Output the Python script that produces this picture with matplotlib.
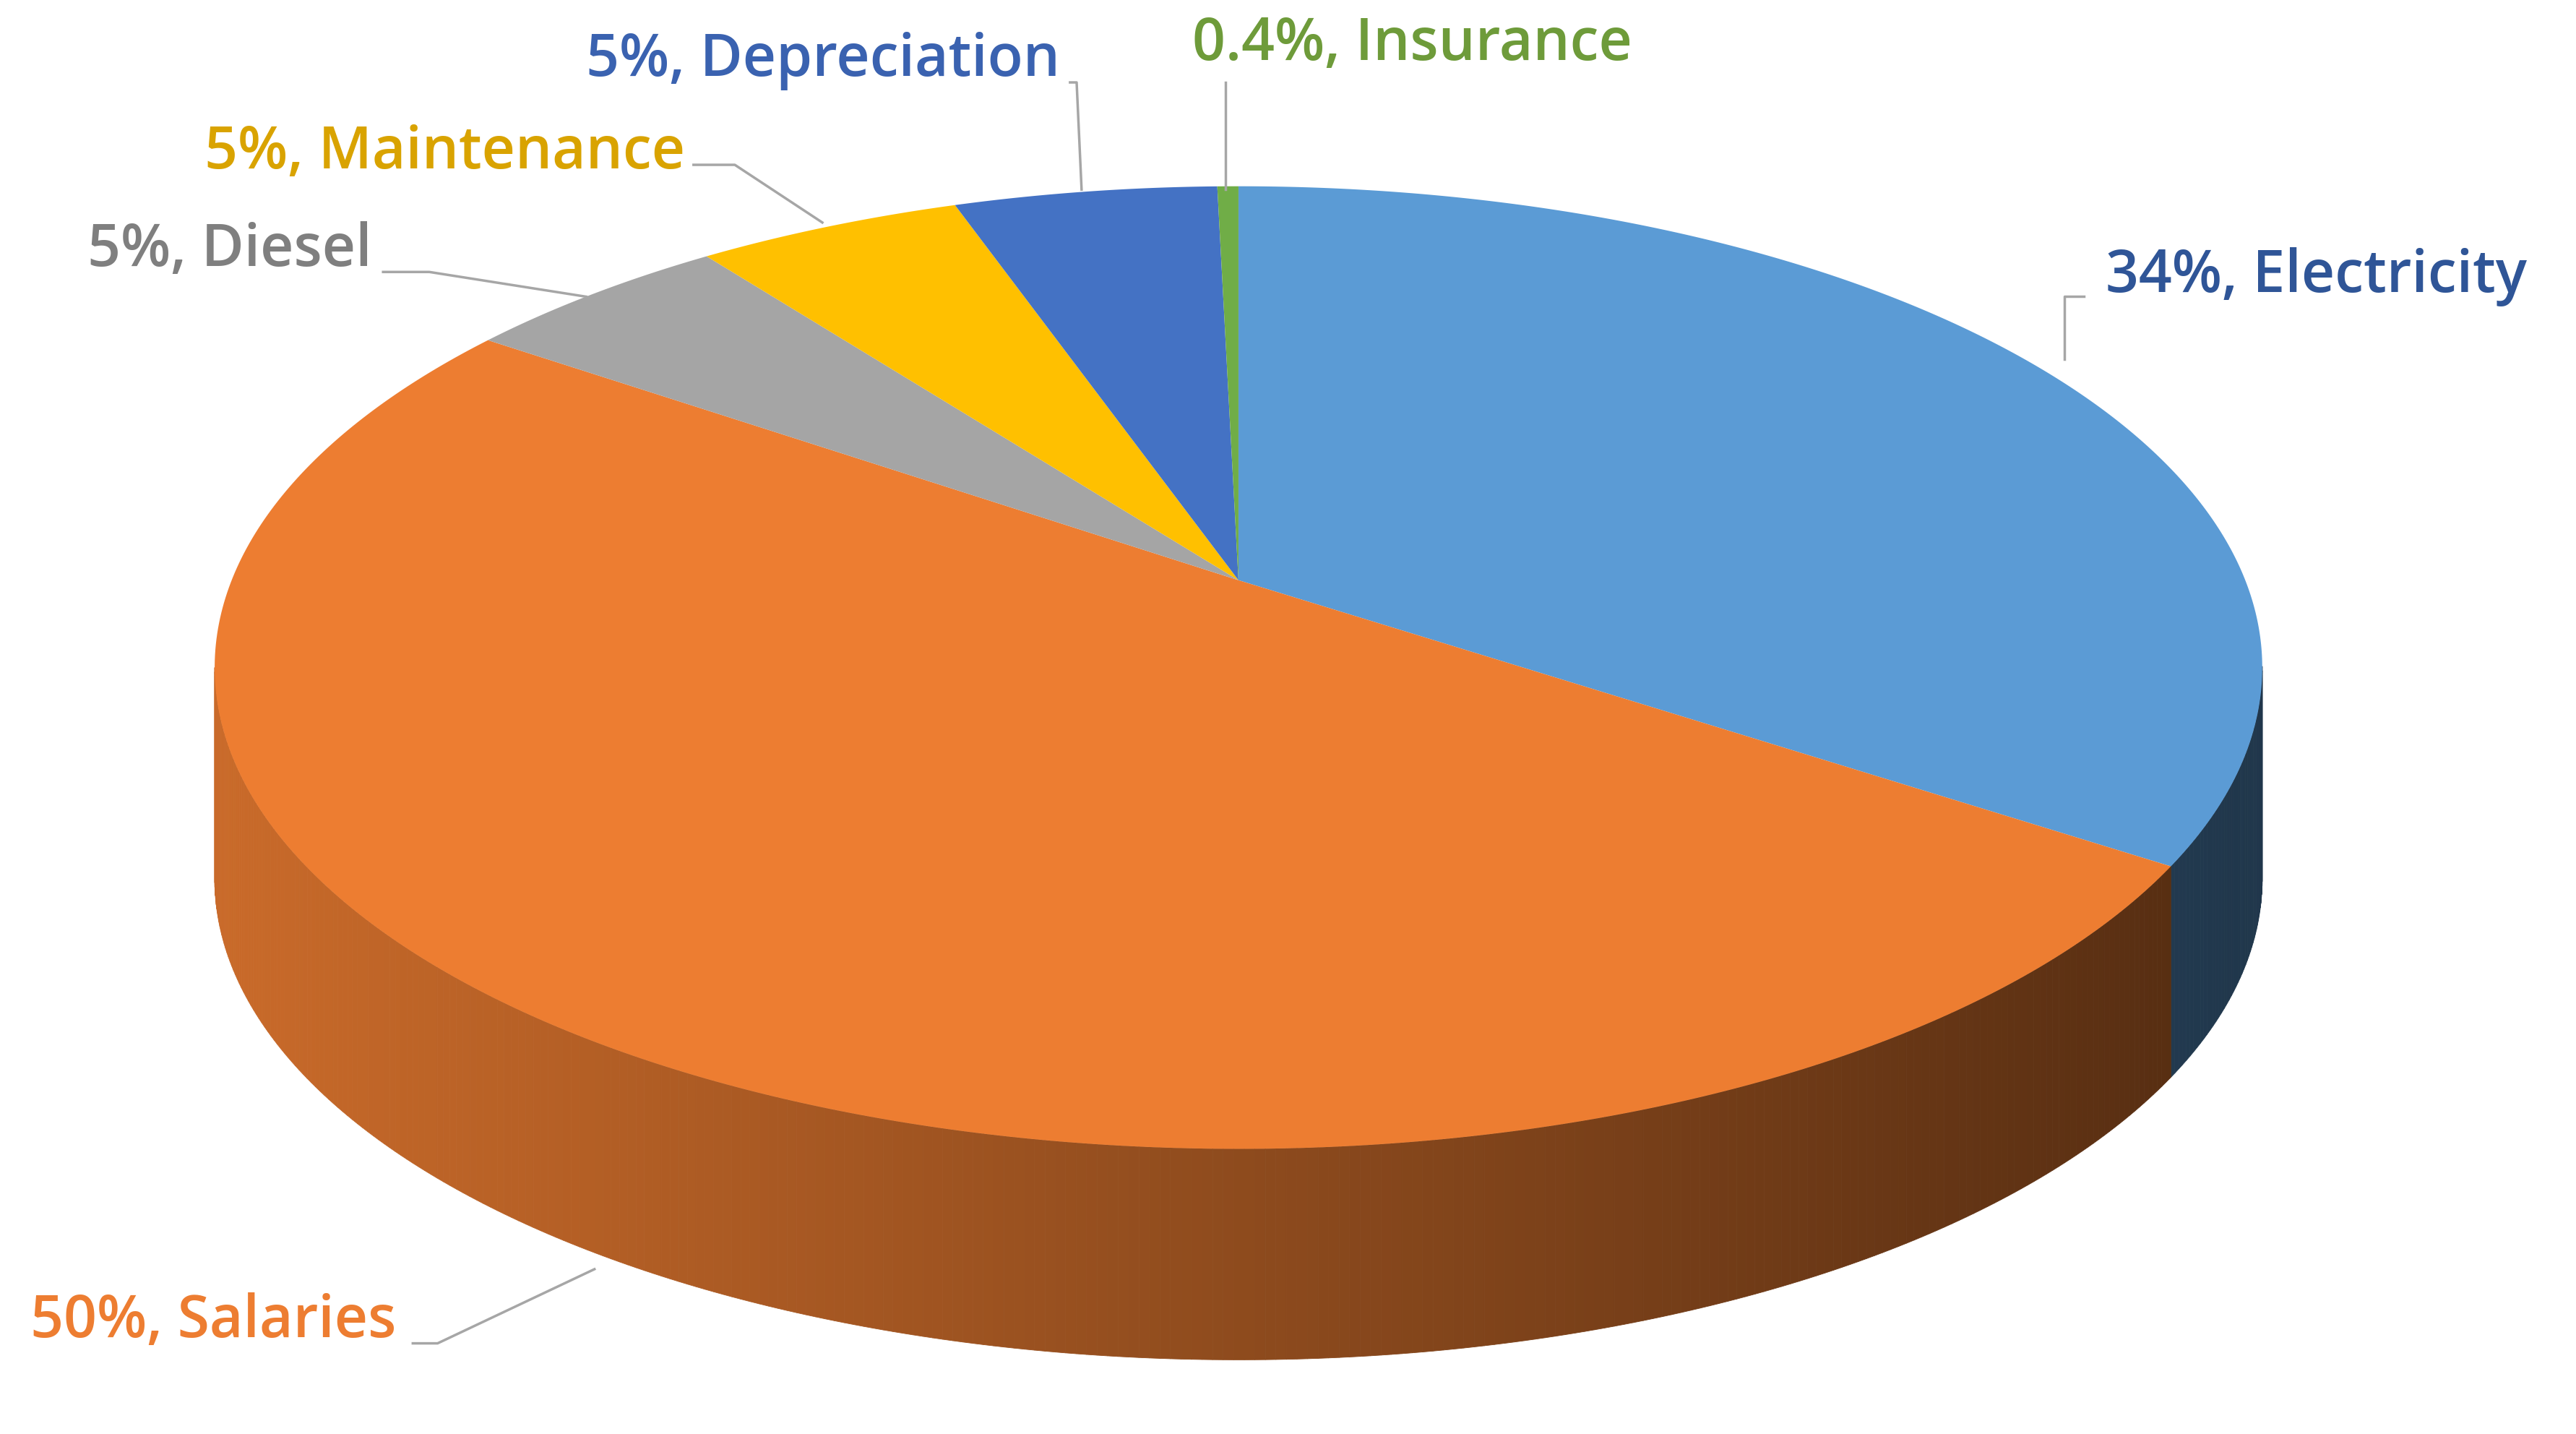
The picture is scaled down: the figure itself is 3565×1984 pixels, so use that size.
import numpy as np
import matplotlib
matplotlib.use("Agg")
import matplotlib.pyplot as plt
from matplotlib.colors import to_rgb

categories = ["Electricity", "Salaries", "Diesel", "Maintenance", "Depreciation", "Insurance"]
values = [34, 50, 5, 5, 5, 0.4]
labels = ["34%, Electricity", "50%, Salaries", "5%, Diesel", "5%, Maintenance", "5%, Depreciation", "0.4%, Insurance"]
colors = ["#5B9BD5", "#ED7D31", "#A5A5A5", "#FFC000", "#4472C4", "#70AD47"]
label_colors = ["#2F5597", "#ED7D31", "#7F7F7F", "#D9A300", "#3A62B0", "#6E9B3A"]

W, H = 1560, 870
fig = plt.figure(figsize=(35.65, 19.84), dpi=100)
ax = fig.add_axes([0, 0, 1, 1])
ax.set_xlim(0, W); ax.set_ylim(H, 0); ax.axis("off")

cx, cy, rx, ry, depth = 750, 405, 620, 292, 128
apx, apy = 750, 352
fr = np.array(values) / sum(values)
ends = 90 - 360 * np.cumsum(fr)
starts = np.concatenate([[90], ends[:-1]])

def pt(a, dy=0):
    # point on ellipse hit by a ray from the apex at "pie angle" a (scaled circle space)
    t = np.radians(a)
    dx, dyy = rx * np.cos(t), -ry * np.sin(t)
    # solve ((apx+s dx-cx)/rx)^2 + ((apy+s dyy-cy)/ry)^2 = 1
    ox, oy = (apx - cx) / rx, (apy - cy) / ry
    ux, uy = dx / rx, dyy / ry
    A = ux * ux + uy * uy; B = 2 * (ox * ux + oy * uy); C = ox * ox + oy * oy - 1
    s = (-B + np.sqrt(B * B - 4 * A * C)) / (2 * A)
    return apx + s * dx, apy + s * dyy + dy

def shade(c, f):
    r, g, b = to_rgb(c)
    return (r * f, g * f, b * f)

for s, e, c in zip(starts, ends, colors):
    lo, hi = min(s, e), max(s, e)
    for a0 in np.arange(lo, hi, 0.5):
        a1 = min(a0 + 0.5, hi)
        x0, y0 = pt(a0); x1, y1 = pt(a1)
        if (y0 + y1) / 2 < cy:
            continue
        xm = (x0 + x1) / 2
        f = 0.85 - 0.5 * (xm - (cx - rx)) / (2 * rx)
        ax.fill([x0, x1, x1, x0], [y0, y1, y1 + depth, y0 + depth],
                color=shade(c, f), lw=0.6, ec=shade(c, f))
# side ends at left/right extremes
for xe, c in [(cx - rx, colors[1])]:
    pass

for s, e, c in zip(starts, ends, colors):
    a = np.linspace(s, e, 300)
    P = [pt(v) for v in a]
    ax.fill([apx] + [p[0] for p in P], [apy] + [p[1] for p in P], color=c, lw=0)

lab_pos = [(1275, 168, "left"), (240, 802, "right"), (225, 152, "right"),
           (415, 93, "right"), (642, 37, "right"), (722, 27, "left")]
leaders = [[(1262, 180), (1250, 180), (1250, 218)], [(250, 815), (265, 815), (360, 770)],
           [(232, 165), (260, 165), (355, 180)], [(420, 100), (445, 100), (498, 135)],
           [(648, 50), (652, 50), (655, 115)], [(742, 50), (742, 115)]]
for (x, y, ha), t, lc, ld in zip(lab_pos, labels, label_colors, leaders):
    ax.text(x, y, t, color=lc, fontsize=58, family="Open Sans", fontweight="semibold",
            ha=ha, va="center")
    ax.plot([p[0] for p in ld], [p[1] for p in ld], color="#A6A6A6", lw=2.5)

fig.savefig("out.png", dpi=100)
